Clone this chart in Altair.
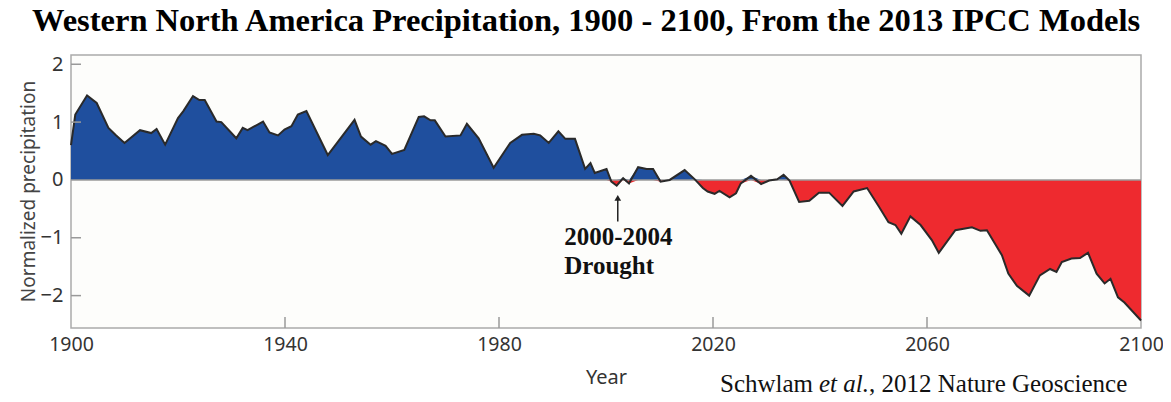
import altair as alt
import pandas as pd

# ---- data ----
years = [1900.0, 1900.8, 1903.0, 1904.8, 1907.0, 1908.3, 1910.0, 1912.9, 1915.0, 1916.0,
         1917.6, 1920.0, 1921.0, 1922.8, 1924.0, 1925.0, 1927.2, 1928.1, 1930.9, 1932.1,
         1933.0, 1935.9, 1937.1, 1938.7, 1939.9, 1941.2, 1942.4, 1944.0, 1948.0, 1953.0,
         1954.2, 1956.0, 1957.0, 1958.8, 1960.0, 1962.3, 1965.0, 1966.0, 1967.2, 1968.0,
         1970.0, 1972.8, 1974.0, 1976.2, 1979.0, 1982.1, 1984.3, 1986.5, 1987.7, 1989.3,
         1991.1, 1992.4, 1994.2, 1996.1, 1997.1, 1997.9, 2000.1, 2001.0, 2002.0, 2003.2,
         2004.3, 2006.0, 2007.6, 2008.8, 2010.2, 2011.9, 2014.7, 2016.6, 2018.1, 2019.0,
         2020.3, 2021.2, 2023.1, 2024.3, 2025.2, 2027.1, 2029.0, 2030.5, 2032.0, 2033.2,
         2034.3, 2036.1, 2038.0, 2039.8, 2041.7, 2044.2, 2046.3, 2048.8, 2051.0, 2052.8,
         2054.1, 2055.2, 2056.9, 2058.8, 2060.9, 2062.2, 2065.3, 2068.4, 2070.0, 2071.2,
         2074.0, 2075.2, 2076.8, 2079.1, 2081.1, 2083.0, 2084.2, 2085.2, 2087.0, 2088.6,
         2090.1, 2091.7, 2093.2, 2094.3, 2095.7, 2096.9, 2100.0]
values = [0.60, 1.13, 1.46, 1.33, 0.90, 0.78, 0.64, 0.86, 0.81, 0.88,
          0.61, 1.07, 1.19, 1.45, 1.38, 1.38, 1.01, 1.00, 0.72, 0.90,
          0.86, 1.01, 0.82, 0.77, 0.87, 0.93, 1.13, 1.19, 0.43, 1.04,
          0.75, 0.61, 0.67, 0.59, 0.45, 0.52, 1.09, 1.10, 1.03, 1.03,
          0.75, 0.77, 0.97, 0.72, 0.21, 0.64, 0.78, 0.80, 0.77, 0.64,
          0.84, 0.71, 0.71, 0.19, 0.29, 0.12, 0.19, -0.03, -0.10, 0.03,
          -0.06, 0.22, 0.19, 0.19, -0.03, 0.00, 0.17, 0.01, -0.14, -0.20,
          -0.24, -0.19, -0.30, -0.23, -0.06, 0.07, -0.07, -0.01, 0.01, 0.09,
          -0.01, -0.38, -0.36, -0.22, -0.22, -0.45, -0.20, -0.14, -0.46, -0.73,
          -0.78, -0.93, -0.63, -0.78, -1.04, -1.26, -0.87, -0.82, -0.88, -0.87,
          -1.30, -1.62, -1.83, -2.00, -1.65, -1.54, -1.59, -1.42, -1.36, -1.35,
          -1.26, -1.62, -1.79, -1.71, -2.03, -2.12, -2.43]

x_tick_values = [1900, 1940, 1980, 2020, 2060, 2100]
y_tick_values = [-2, -1, 0, 1, 2]
inner_x_ticks = [1940, 1980, 2020, 2060]
inner_y_ticks = [-2, -1, 1, 2]

title_text = "Western North America Precipitation, 1900 - 2100, From the 2013 IPCC Models"
x_title = "Year"
y_title = "Normalized precipitation"
drought_lines = ["2000-2004", "Drought"]
drought_text_year = 1992.2
drought_text_y = [-1.12, -1.63]
arrow_year = 2002.2
arrow_from = -0.72
arrow_to = -0.31
source_parts = ["Schwlam ", "et al.", ", 2012 Nature Geoscience"]

# ---- chart ----
W, H = 1070, 273
BLUE = "#1f4f9e"
RED = "#ee2a2f"
GRAY = "#9a9a9a"

df = pd.DataFrame({"year": years, "val": values})

xs = alt.Scale(domain=[1900, 2100], nice=False, zero=False)
ys = alt.Scale(domain=[-2.56, 2.16], nice=False, zero=False)

x_axis = alt.Axis(values=x_tick_values, format="d", title=x_title, labelFlush=False,
                  labelOverlap=False, ticks=False, tickSize=0, domain=False, grid=False,
                  labelFont="Noto Sans", labelFontSize=19.5, labelColor="#333333", labelPadding=7,
                  titleFont="Noto Sans", titleFontSize=20, titleFontWeight="normal",
                  titleColor="#333333", titleBaseline="alphabetic", titleY=55)
y_axis = alt.Axis(values=y_tick_values, format="d", title=y_title, labelOverlap=False,
                  ticks=False, tickSize=0, domain=False, grid=False,
                  labelFont="Noto Sans", labelFontSize=20, labelColor="#333333", labelPadding=8,
                  titleFont="Noto Sans", titleFontSize=19, titleFontWeight="normal",
                  titleColor="#444444", titleAngle=270, titleAlign="center",
                  titleBaseline="middle", titleX=-43, titleY=136)


def X(field):
    return alt.X(field, scale=xs, axis=x_axis)


def Y(field):
    return alt.Y(field, scale=ys, axis=y_axis)


base = alt.Chart(df)

pos_area = base.transform_calculate(pos="max(datum.val, 0)").mark_area(
    color=BLUE, opacity=1).encode(x=X("year:Q"), y=Y("pos:Q"), y2=alt.datum(0))

neg_area = base.transform_calculate(neg="min(datum.val, 0)").mark_area(
    color=RED, opacity=1).encode(x=X("year:Q"), y=Y("neg:Q"), y2=alt.datum(0))

zero_rule = alt.Chart(pd.DataFrame({"z": [0]})).mark_rule(color=GRAY, strokeWidth=1.5).encode(
    y=Y("z:Q"))

line = base.mark_line(color="#2a2a2a", strokeWidth=2).encode(x=X("year:Q"), y=Y("val:Q"))

ytick = alt.Chart(pd.DataFrame({"v": inner_y_ticks})).mark_rule(color=GRAY, strokeWidth=1.5).encode(
    y=Y("v:Q"), x=alt.value(0), x2=alt.value(10))
xtick = alt.Chart(pd.DataFrame({"t": inner_x_ticks})).mark_rule(color=GRAY, strokeWidth=1.5).encode(
    x=X("t:Q"), y=alt.value(H), y2=alt.value(H - 11))

arrow_df = pd.DataFrame({"yr": [arrow_year], "a": [arrow_from], "b": [arrow_to]})
arrow_shaft = alt.Chart(arrow_df).mark_rule(color="#222222", strokeWidth=1.5).encode(
    x=X("yr:Q"), y=Y("a:Q"), y2="b:Q")
arrow_head = alt.Chart(arrow_df).mark_point(shape="triangle-up", filled=True, size=45,
                                            color="#222222", opacity=1).encode(
    x=X("yr:Q"), y=Y("b:Q"))

drought_df = pd.DataFrame({"yr": [drought_text_year] * 2, "y": drought_text_y, "txt": drought_lines})
drought_text = alt.Chart(drought_df).mark_text(
    align="left", baseline="alphabetic", font="Liberation Serif", fontSize=25,
    fontWeight="bold", color="#111111").encode(x=X("yr:Q"), y=Y("y:Q"), text="txt:N")

title_mark = alt.Chart(pd.DataFrame({"t": [title_text]})).mark_text(
    align="center", baseline="alphabetic", font="Liberation Serif", fontSize=32.5,
    fontWeight="bold", color="#000000").encode(
    x=alt.value(515), y=alt.value(-24), text="t:N")

src1 = alt.Chart(pd.DataFrame({"t": [source_parts[0]]})).mark_text(
    align="left", baseline="alphabetic", font="Liberation Serif", fontSize=25,
    color="#111111").encode(x=alt.value(649), y=alt.value(336.7), text="t:N")
src2 = alt.Chart(pd.DataFrame({"t": [source_parts[1]]})).mark_text(
    align="left", baseline="alphabetic", font="Liberation Serif", fontSize=25,
    fontStyle="italic", color="#111111").encode(x=alt.value(748), y=alt.value(336.7), text="t:N")
src3 = alt.Chart(pd.DataFrame({"t": [source_parts[2]]})).mark_text(
    align="left", baseline="alphabetic", font="Liberation Serif", fontSize=25,
    color="#111111").encode(x=alt.value(798), y=alt.value(336.7), text="t:N")

chart = alt.layer(
    pos_area, neg_area, zero_rule, line, ytick, xtick,
    arrow_shaft, arrow_head, drought_text, title_mark, src1, src2, src3
).properties(
    width=W, height=H,
    autosize=alt.AutoSizeParams(type="none"),
    padding={"left": 63, "top": 47, "right": 22, "bottom": 72},
    background="#ffffff"
).configure_view(
    fill="#fdfdfb", stroke="#aaaaaa", strokeWidth=1.5
)

chart.save("out.html", embed_options={"renderer": "svg", "actions": False})
